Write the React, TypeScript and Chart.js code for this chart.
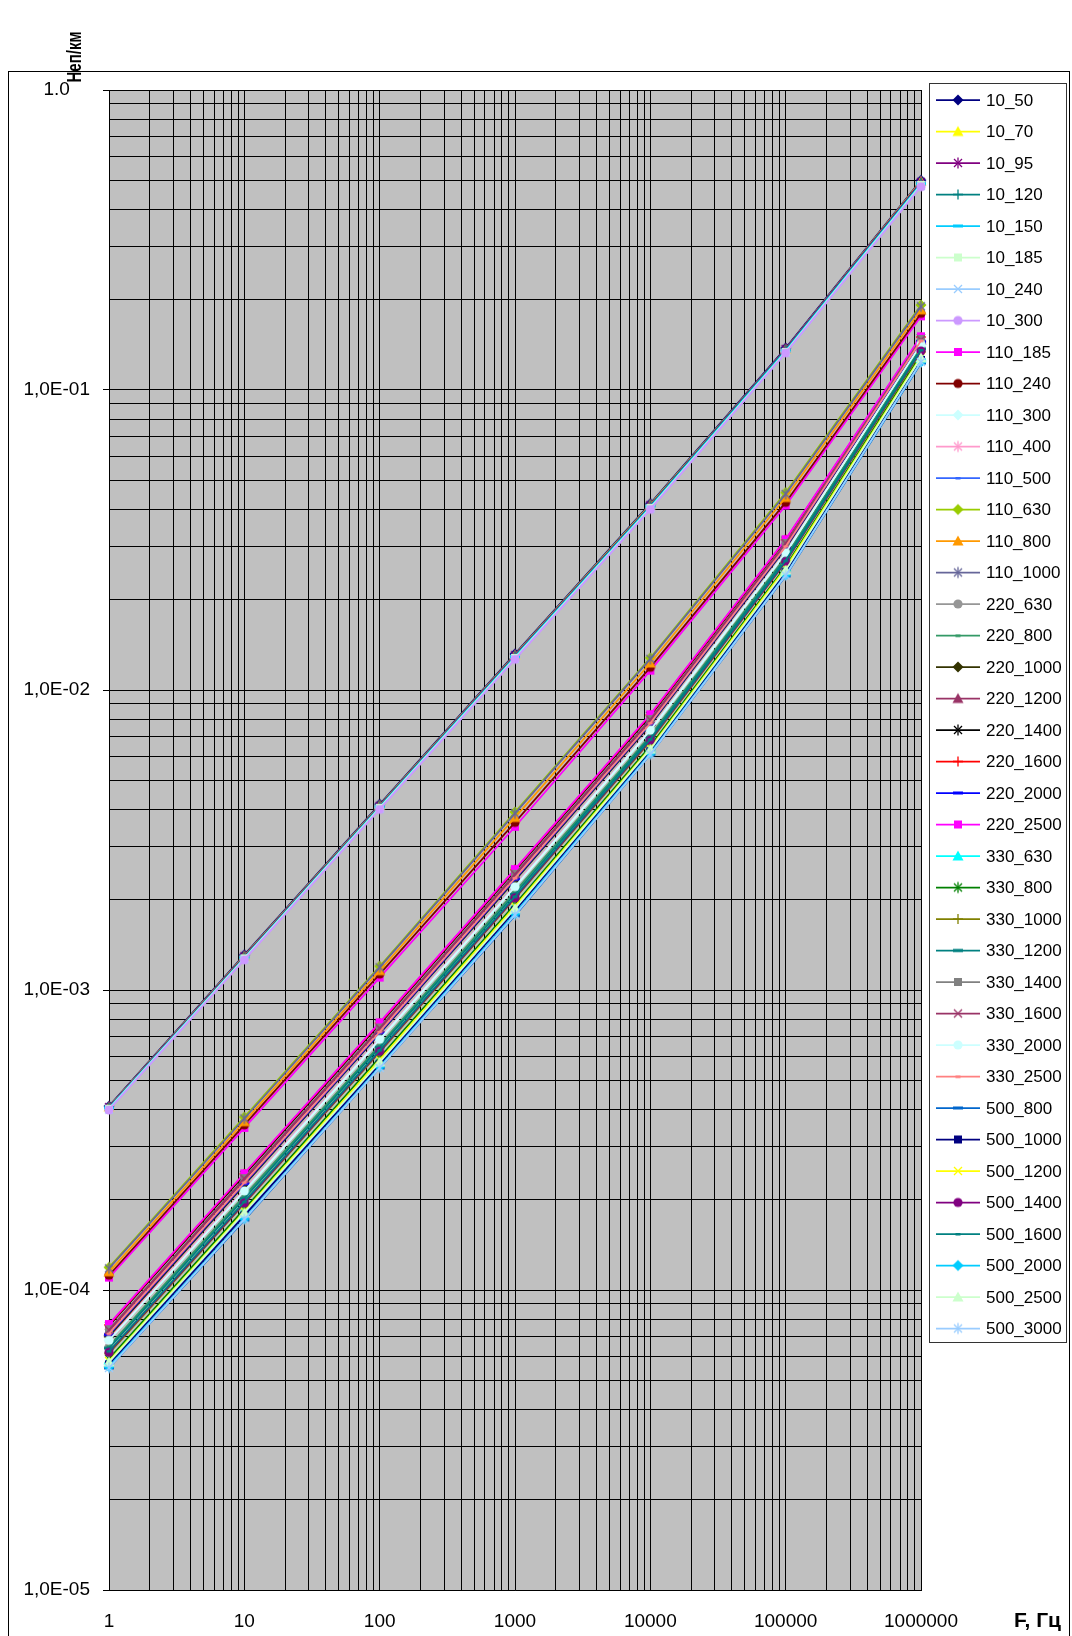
import React, { useEffect, useRef } from 'react';
import { Chart, registerables } from 'chart.js';

Chart.register(...registerables);

// ---------- axes ----------
const frequencies = [1, 10, 100, 1000, 10000, 100000, 1000000];
const xTickLabels = ['1', '10', '100', '1000', '10000', '100000', '1000000'];
const yMajorValues = [1, 0.1, 0.01, 0.001, 0.0001, 0.00001];
const yTickLabels = ['1.0', '1,0E-01', '1,0E-02', '1,0E-03', '1,0E-04', '1,0E-05'];
const gridMultipliers = [1, 2, 3, 4, 5, 6, 7, 8, 9];
const xAxisTitle = 'F, Гц';
const yAxisTitle = 'Неп/км';

// ---------- series values (Неп/км at each frequency) ----------
const s10_50 = [4.1e-4, 1.31e-3, 4.16e-3, 1.32e-2, 4.18e-2, 0.138, 0.5];
const s10_70 = [4.08e-4, 1.3e-3, 4.13e-3, 1.31e-2, 4.15e-2, 0.137, 0.497];
const s10_95 = [4.07e-4, 1.295e-3, 4.11e-3, 1.305e-2, 4.13e-2, 0.137, 0.494];
const s10_120 = [4.05e-4, 1.285e-3, 4.09e-3, 1.295e-2, 4.1e-2, 0.136, 0.49];
const s10_150 = [4.04e-4, 1.28e-3, 4.07e-3, 1.29e-2, 4.08e-2, 0.135, 0.487];
const s10_185 = [4.02e-4, 1.275e-3, 4.05e-3, 1.28e-2, 4.05e-2, 0.134, 0.483];
const s10_240 = [4.0e-4, 1.265e-3, 4.02e-3, 1.27e-2, 4.02e-2, 0.133, 0.479];
const s10_300 = [3.98e-4, 1.26e-3, 4.0e-3, 1.265e-2, 4.0e-2, 0.133, 0.476];

const s110_185 = [1.1e-4, 3.47e-4, 1.1e-3, 3.5e-3, 1.16e-2, 4.12e-2, 0.176];
const s110_240 = [1.12e-4, 3.55e-4, 1.13e-3, 3.62e-3, 1.19e-2, 4.22e-2, 0.18];
const s110_300 = [6.8e-5, 2.13e-4, 6.8e-4, 2.2e-3, 7.3e-3, 2.86e-2, 0.141];
const s110_400 = [6.9e-5, 2.16e-4, 6.9e-4, 2.23e-3, 7.4e-3, 2.89e-2, 0.143];
const s110_500 = [5.7e-5, 1.79e-4, 5.7e-4, 1.85e-3, 6.3e-3, 2.49e-2, 0.127];
const s110_630 = [1.19e-4, 3.77e-4, 1.2e-3, 3.92e-3, 1.28e-2, 4.55e-2, 0.192];
const s110_800 = [1.15e-4, 3.64e-4, 1.16e-3, 3.76e-3, 1.23e-2, 4.38e-2, 0.185];
const s110_1000 = [1.18e-4, 3.73e-4, 1.19e-3, 3.88e-3, 1.27e-2, 4.5e-2, 0.19];

const s220_630 = [6.45e-5, 2.04e-4, 6.5e-4, 2.11e-3, 7.0e-3, 2.76e-2, 0.138];
const s220_800 = [6.5e-5, 2.06e-4, 6.55e-4, 2.13e-3, 7.05e-3, 2.78e-2, 0.139];
const s220_1000 = [7.0e-5, 2.24e-4, 7.15e-4, 2.32e-3, 7.65e-3, 2.97e-2, 0.145];
const s220_1200 = [7.3e-5, 2.33e-4, 7.4e-4, 2.41e-3, 7.9e-3, 3.06e-2, 0.147];
const s220_1400 = [7.6e-5, 2.42e-4, 7.7e-4, 2.5e-3, 8.2e-3, 3.15e-2, 0.149];
const s220_1600 = [7.65e-5, 2.44e-4, 7.75e-4, 2.52e-3, 8.25e-3, 3.17e-2, 0.15];
const s220_2000 = [7.1e-5, 2.26e-4, 7.2e-4, 2.34e-3, 7.7e-3, 2.99e-2, 0.145];
const s220_2500 = [7.7e-5, 2.45e-4, 7.8e-4, 2.53e-3, 8.3e-3, 3.18e-2, 0.151];

const s330_630 = [5.85e-5, 1.85e-4, 5.9e-4, 1.92e-3, 6.45e-3, 2.57e-2, 0.13];
const s330_800 = [5.9e-5, 1.86e-4, 5.95e-4, 1.93e-3, 6.5e-3, 2.58e-2, 0.131];
const s330_1000 = [6.15e-5, 1.94e-4, 6.2e-4, 2.02e-3, 6.75e-3, 2.67e-2, 0.134];
const s330_1200 = [6.4e-5, 2.02e-4, 6.45e-4, 2.09e-3, 6.95e-3, 2.74e-2, 0.137];
const s330_1400 = [7.4e-5, 2.36e-4, 7.5e-4, 2.44e-3, 8.0e-3, 3.09e-2, 0.148];
const s330_1600 = [7.35e-5, 2.35e-4, 7.45e-4, 2.43e-3, 7.95e-3, 3.08e-2, 0.147];
const s330_2000 = [6.8e-5, 2.14e-4, 6.85e-4, 2.21e-3, 7.35e-3, 2.87e-2, 0.142];
const s330_2500 = [7.15e-5, 2.28e-4, 7.25e-4, 2.36e-3, 7.75e-3, 3.01e-2, 0.146];

const s500_800 = [5.5e-5, 1.71e-4, 5.5e-4, 1.77e-3, 6.1e-3, 2.4e-2, 0.123];
const s500_1000 = [5.65e-5, 1.77e-4, 5.65e-4, 1.84e-3, 6.25e-3, 2.47e-2, 0.126];
const s500_1200 = [5.8e-5, 1.83e-4, 5.85e-4, 1.9e-3, 6.4e-3, 2.55e-2, 0.129];
const s500_1400 = [6.2e-5, 1.95e-4, 6.25e-4, 2.03e-3, 6.8e-3, 2.68e-2, 0.135];
const s500_1600 = [6.25e-5, 1.97e-4, 6.3e-4, 2.05e-3, 6.85e-3, 2.7e-2, 0.136];
const s500_2000 = [5.55e-5, 1.73e-4, 5.55e-4, 1.8e-3, 6.15e-3, 2.42e-2, 0.124];
const s500_2500 = [5.75e-5, 1.81e-4, 5.75e-4, 1.87e-3, 6.35e-3, 2.51e-2, 0.128];
const s500_3000 = [5.5e-5, 1.72e-4, 5.5e-4, 1.78e-3, 6.1e-3, 2.41e-2, 0.124];

const seriesNames = [
  '10_50', '10_70', '10_95', '10_120', '10_150', '10_185', '10_240', '10_300',
  '110_185', '110_240', '110_300', '110_400', '110_500', '110_630', '110_800', '110_1000',
  '220_630', '220_800', '220_1000', '220_1200', '220_1400', '220_1600', '220_2000', '220_2500',
  '330_630', '330_800', '330_1000', '330_1200', '330_1400', '330_1600', '330_2000', '330_2500',
  '500_800', '500_1000', '500_1200', '500_1400', '500_1600', '500_2000', '500_2500', '500_3000',
];
const seriesValues = [
  s10_50, s10_70, s10_95, s10_120, s10_150, s10_185, s10_240, s10_300,
  s110_185, s110_240, s110_300, s110_400, s110_500, s110_630, s110_800, s110_1000,
  s220_630, s220_800, s220_1000, s220_1200, s220_1400, s220_1600, s220_2000, s220_2500,
  s330_630, s330_800, s330_1000, s330_1200, s330_1400, s330_1600, s330_2000, s330_2500,
  s500_800, s500_1000, s500_1200, s500_1400, s500_1600, s500_2000, s500_2500, s500_3000,
];
const seriesColors = [
  '#000080', '#FFFF00', '#800080', '#008080', '#00CCFF', '#CCFFCC', '#99CCFF', '#CC99FF',
  '#FF00FF', '#800000', '#CCFFFF', '#FF99CC', '#3366FF', '#99CC00', '#FF9900', '#666699',
  '#969696', '#339966', '#333300', '#993366', '#000000', '#FF0000', '#0000FF', '#FF00FF',
  '#00FFFF', '#008000', '#808000', '#008080', '#808080', '#993366', '#CCFFFF', '#FF8080',
  '#0066CC', '#000080', '#FFFF00', '#800080', '#008080', '#00CCFF', '#CCFFCC', '#99CCFF',
];
const seriesMarkers = [
  'diamond', 'triangle', 'star', 'plus', 'dash', 'square', 'x', 'circle',
  'square', 'circle', 'diamond', 'star', 'shortdash', 'diamond', 'triangle', 'star',
  'circle', 'shortdash', 'diamond', 'triangle', 'star', 'plus', 'dash', 'square',
  'triangle', 'star', 'plus', 'dash', 'square', 'x', 'circle', 'shortdash',
  'dash', 'square', 'x', 'circle', 'shortdash', 'diamond', 'triangle', 'star',
];

const FONT = "'Liberation Sans', Arial, sans-serif";

function makeMarker(kind: string, color: string): HTMLCanvasElement {
  const s = 14;
  const c = document.createElement('canvas');
  c.width = s;
  c.height = s;
  const g = c.getContext('2d')!;
  const m = s / 2;
  g.fillStyle = color;
  g.strokeStyle = color;
  g.lineWidth = 1.3;
  const line = (x1: number, y1: number, x2: number, y2: number) => {
    g.beginPath();
    g.moveTo(x1, y1);
    g.lineTo(x2, y2);
    g.stroke();
  };
  switch (kind) {
    case 'diamond':
      g.beginPath();
      g.moveTo(m, m - 5.5);
      g.lineTo(m + 5.5, m);
      g.lineTo(m, m + 5.5);
      g.lineTo(m - 5.5, m);
      g.closePath();
      g.fill();
      break;
    case 'triangle':
      g.beginPath();
      g.moveTo(m, m - 5.5);
      g.lineTo(m + 5.5, m + 4.5);
      g.lineTo(m - 5.5, m + 4.5);
      g.closePath();
      g.fill();
      break;
    case 'square':
      g.fillRect(m - 4, m - 4, 8, 8);
      break;
    case 'circle':
      g.beginPath();
      g.arc(m, m, 4.6, 0, Math.PI * 2);
      g.fill();
      break;
    case 'star':
      line(m - 4, m - 4, m + 4, m + 4);
      line(m - 4, m + 4, m + 4, m - 4);
      line(m, m - 5.5, m, m + 5.5);
      break;
    case 'plus':
      line(m - 5, m, m + 5, m);
      line(m, m - 5, m, m + 5);
      break;
    case 'x':
      line(m - 4, m - 4, m + 4, m + 4);
      line(m - 4, m + 4, m + 4, m - 4);
      break;
    case 'dash':
      g.fillRect(m - 5, m - 1.5, 10, 3);
      break;
    case 'shortdash':
      g.fillRect(m - 2.5, m - 1, 5, 2.5);
      break;
  }
  return c;
}

function isCloseTo(a: number, b: number) {
  return Math.abs(a - b) <= Math.abs(b) * 1e-6;
}

export default function App() {
  const ref = useRef<HTMLCanvasElement>(null);

  useEffect(() => {
    const canvas = ref.current;
    if (!canvas) return;
    const markers = seriesMarkers.map((k, i) => makeMarker(k, seriesColors[i]));

    const datasets = seriesNames.map((name, i) => ({
      label: name,
      data: frequencies.map((f, j) => ({ x: f, y: seriesValues[i][j] })),
      borderColor: seriesColors[i],
      backgroundColor: seriesColors[i],
      borderWidth: 1.75,
      pointStyle: markers[i],
      pointRadius: 4,
      pointHoverRadius: 4,
      tension: 0,
      clip: false as any,
      order: seriesNames.length - i,
    }));

    const framePlugin = {
      id: 'frame',
      beforeDraw(chart: any) {
        const ctx = chart.ctx;
        const a = chart.chartArea;
        ctx.save();
        ctx.fillStyle = '#ffffff';
        ctx.fillRect(0, 0, chart.width, chart.height);
        ctx.strokeStyle = '#000000';
        ctx.lineWidth = 1;
        ctx.strokeRect(8.5, 71.5, 1061, 1600);
        ctx.fillStyle = '#C0C0C0';
        ctx.fillRect(a.left, a.top, a.right - a.left, a.bottom - a.top);
        ctx.restore();
      },
      afterDraw(chart: any) {
        const ctx = chart.ctx;
        ctx.save();
        // legend box
        ctx.fillStyle = '#ffffff';
        ctx.fillRect(929, 83, 138, 1260);
        ctx.strokeStyle = '#333333';
        ctx.lineWidth = 1;
        ctx.strokeRect(929.5, 83.5, 137, 1259);
        seriesNames.forEach((name, i) => {
          const y = 100 + i * 31.5;
          ctx.strokeStyle = seriesColors[i];
          ctx.lineWidth = 1.75;
          ctx.beginPath();
          ctx.moveTo(936, y);
          ctx.lineTo(980, y);
          ctx.stroke();
          const mk = markers[i];
          ctx.drawImage(mk, 958 - mk.width / 2, y - mk.height / 2);
          ctx.fillStyle = '#000000';
          ctx.font = `17px ${FONT}`;
          ctx.textAlign = 'left';
          ctx.textBaseline = 'middle';
          ctx.fillText(name, 986, y + 1);
        });
        // axis titles
        ctx.fillStyle = '#000000';
        ctx.font = `bold 21px ${FONT}`;
        ctx.textAlign = 'left';
        ctx.textBaseline = 'middle';
        ctx.fillText(xAxisTitle, 1014, 1621);
        ctx.save();
        ctx.translate(75, 57);
        ctx.rotate(-Math.PI / 2);
        ctx.scale(1, 1.35);
        ctx.font = `bold 15px ${FONT}`;
        ctx.textAlign = 'center';
        ctx.textBaseline = 'middle';
        ctx.fillText(yAxisTitle, 0, 0);
        ctx.restore();
        ctx.restore();
      },
    };

    const xGridValues: number[] = [];
    for (let e = 0; e < 6; e++) gridMultipliers.forEach((m) => xGridValues.push(m * Math.pow(10, e)));
    xGridValues.push(1000000);
    const yGridValues: number[] = [];
    for (let e = -5; e < 0; e++) gridMultipliers.forEach((m) => yGridValues.push(m * Math.pow(10, e)));
    yGridValues.push(1);

    const chart = new Chart(canvas, {
      type: 'line',
      data: { datasets: datasets as any },
      options: {
        responsive: false,
        maintainAspectRatio: false,
        animation: false,
        events: [],
        layout: { padding: { left: 0, right: 151, top: 90, bottom: 0 } },
        plugins: {
          legend: { display: false },
          tooltip: { enabled: false },
          title: { display: false },
        },
        scales: {
          x: {
            type: 'logarithmic',
            min: 1,
            max: 1000000,
            afterFit: (scale: any) => {
              scale.height = 46;
            },
            afterBuildTicks: (scale: any) => {
              scale.ticks = xGridValues.map((v) => ({ value: v }));
            },
            border: { display: true, color: '#000000', width: 1 },
            grid: { color: '#000000', lineWidth: 1, drawTicks: false },
            ticks: {
              autoSkip: false,
              maxRotation: 0,
              minRotation: 0,
              padding: 20,
              color: '#000000',
              font: { family: FONT, size: 19 },
              callback: (value: any) => {
                const idx = frequencies.findIndex((f) => isCloseTo(Number(value), f));
                return idx >= 0 ? xTickLabels[idx] : '';
              },
            },
          },
          y: {
            type: 'logarithmic',
            min: 0.00001,
            max: 1,
            afterFit: (scale: any) => {
              scale.width = 109;
            },
            afterBuildTicks: (scale: any) => {
              scale.ticks = yGridValues.map((v) => ({ value: v }));
            },
            border: { display: true, color: '#000000', width: 1 },
            grid: {
              color: '#000000',
              lineWidth: 1,
              drawTicks: true,
              tickLength: 6,
              tickColor: (ctx: any) => {
                const v = ctx.tick ? ctx.tick.value : 0;
                return yMajorValues.some((m) => isCloseTo(v, m)) ? '#000000' : 'rgba(0,0,0,0)';
              },
            },
            ticks: {
              autoSkip: false,
              padding: 13,
              crossAlign: 'center',
              color: '#000000',
              font: { family: FONT, size: 19 },
              callback: (value: any) => {
                const idx = yMajorValues.findIndex((m) => isCloseTo(Number(value), m));
                return idx >= 0 ? yTickLabels[idx] : '';
              },
            },
          },
        },
      } as any,
      plugins: [framePlugin],
    });

    return () => chart.destroy();
  }, []);

  return (
    <canvas
      ref={ref}
      width={1072}
      height={1636}
      style={{ position: 'absolute', left: 0, top: 0, width: 1072, height: 1636 }}
    />
  );
}
